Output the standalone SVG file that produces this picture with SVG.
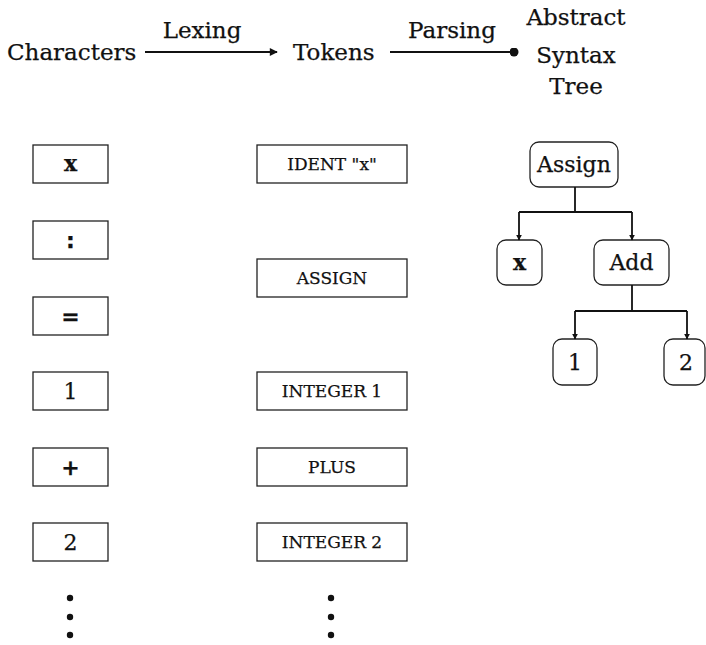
<svg xmlns="http://www.w3.org/2000/svg" width="706" height="645" viewBox="0 0 706 645">
  <style>
    text { stroke: #111; stroke-width: 0.25; }
    .hdr { font-family: "DejaVu Serif", "Liberation Serif", serif; font-size: 23px; fill: #111; }
    .lbl { font-family: "DejaVu Serif", "Liberation Serif", serif; font-size: 17px; fill: #111; text-anchor: middle; }
    .chr { font-family: "DejaVu Serif", "Liberation Serif", serif; font-size: 22px; fill: #111; text-anchor: middle; }
    .sym { font-family: "DejaVu Sans", "Liberation Sans", sans-serif; font-size: 22px; font-weight: bold; fill: #111; text-anchor: middle; }
    .ast { font-family: "DejaVu Serif", "Liberation Serif", serif; font-size: 22px; fill: #111; text-anchor: middle; }
    .box { fill: #fff; stroke: #222; stroke-width: 1.3; }
    .node { fill: #fff; stroke: #222; stroke-width: 1.3; }
    .edge { fill: none; stroke: #111; stroke-width: 1.8; }
    .dot { fill: #111; }
  </style>
  <defs>
    <marker id="arrow" viewBox="0 0 10 10" refX="9" refY="5" markerWidth="6" markerHeight="6" markerUnits="userSpaceOnUse" orient="auto">
      <path d="M0,0 L10,5 L0,10 z" fill="#111"/>
    </marker>
    <marker id="arrowBig" viewBox="0 0 10 10" refX="9" refY="5" markerWidth="10" markerHeight="8" markerUnits="userSpaceOnUse" orient="auto">
      <path d="M0,0 L10,5 L0,10 z" fill="#111"/>
    </marker>
    <marker id="ball" viewBox="0 0 10 10" refX="5" refY="5" markerWidth="9" markerHeight="9" markerUnits="userSpaceOnUse">
      <circle cx="5" cy="5" r="5" fill="#111"/>
    </marker>
  </defs>

  <!-- stage headings -->
  <g id="characters"><text class="hdr" x="7" y="60">Characters</text></g>
  <g id="tokens"><text class="hdr" x="293" y="60">Tokens</text></g>
  <g id="ast-title">
    <text class="hdr" x="576" y="25" text-anchor="middle">Abstract</text>
    <text class="hdr" x="576" y="63" text-anchor="middle">Syntax</text>
    <text class="hdr" x="576" y="94" text-anchor="middle">Tree</text>
  </g>

  <!-- character column -->
  <g id="char-x"><rect class="box" x="33" y="145" width="75" height="38"/><text class="chr" x="70.5" y="171" font-weight="bold">x</text></g>
  <g id="char-colon"><rect class="box" x="33" y="221" width="75" height="38"/><text class="sym" x="70.5" y="248">:</text></g>
  <g id="char-eq"><rect class="box" x="33" y="297" width="75" height="38"/><text class="sym" x="70.5" y="324">=</text></g>
  <g id="char-1"><rect class="box" x="33" y="372" width="75" height="38"/><text class="chr" x="70.5" y="399">1</text></g>
  <g id="char-plus"><rect class="box" x="33" y="448" width="75" height="38"/><text class="sym" x="70.5" y="475">+</text></g>
  <g id="char-2"><rect class="box" x="33" y="523" width="75" height="38"/><text class="chr" x="70.5" y="550">2</text></g>
  <g id="char-more">
    <circle class="dot" cx="70" cy="598" r="3.2"/>
    <circle class="dot" cx="70" cy="617" r="3.2"/>
    <circle class="dot" cx="70" cy="635" r="3.2"/>
  </g>

  <!-- token column -->
  <g id="tok-ident"><rect class="box" x="257" y="145" width="150" height="38"/><text class="lbl" x="332" y="170">IDENT "x"</text></g>
  <g id="tok-assign"><rect class="box" x="257" y="259" width="150" height="38"/><text class="lbl" x="332" y="284">ASSIGN</text></g>
  <g id="tok-int1"><rect class="box" x="257" y="372" width="150" height="38"/><text class="lbl" x="332" y="397">INTEGER 1</text></g>
  <g id="tok-plus"><rect class="box" x="257" y="448" width="150" height="38"/><text class="lbl" x="332" y="473">PLUS</text></g>
  <g id="tok-int2"><rect class="box" x="257" y="523" width="150" height="38"/><text class="lbl" x="332" y="548">INTEGER 2</text></g>
  <g id="tok-more">
    <circle class="dot" cx="331" cy="598" r="3.2"/>
    <circle class="dot" cx="331" cy="617" r="3.2"/>
    <circle class="dot" cx="331" cy="635" r="3.2"/>
  </g>

  <!-- syntax tree nodes -->
  <g id="ast-assign"><rect class="node" x="530" y="142" width="88" height="45" rx="9"/><text class="ast" x="574" y="172">Assign</text></g>
  <g id="ast-x"><rect class="node" x="497" y="240" width="45" height="45" rx="9"/><text class="ast" x="519.5" y="270" font-weight="bold">x</text></g>
  <g id="ast-add"><rect class="node" x="594" y="240" width="75" height="45" rx="9"/><text class="ast" x="631.5" y="270">Add</text></g>
  <g id="ast-1"><rect class="node" x="553" y="339" width="44" height="46" rx="9"/><text class="ast" x="575" y="370">1</text></g>
  <g id="ast-2"><rect class="node" x="664" y="339" width="41" height="46" rx="9"/><text class="ast" x="686" y="370">2</text></g>

  <!-- connectors -->
  <g id="connectors">
    <text class="hdr" x="202" y="38" text-anchor="middle" font-size="20">Lexing</text>
    <line class="edge" x1="145" y1="52" x2="277" y2="52" marker-end="url(#arrowBig)"/>
    <text class="hdr" x="452" y="38" text-anchor="middle" font-size="20">Parsing</text>
    <line class="edge" x1="390" y1="52" x2="514" y2="52" marker-end="url(#ball)"/>

    <path class="edge" d="M575,187 V212"/>
    <path class="edge" d="M519,212 H632"/>
    <path class="edge" d="M519,212 V240" marker-end="url(#arrow)"/>
    <path class="edge" d="M632,212 V240" marker-end="url(#arrow)"/>

    <path class="edge" d="M632,285 V311"/>
    <path class="edge" d="M575,311 H687"/>
    <path class="edge" d="M575,311 V339" marker-end="url(#arrow)"/>
    <path class="edge" d="M687,311 V339" marker-end="url(#arrow)"/>
  </g>
</svg>
